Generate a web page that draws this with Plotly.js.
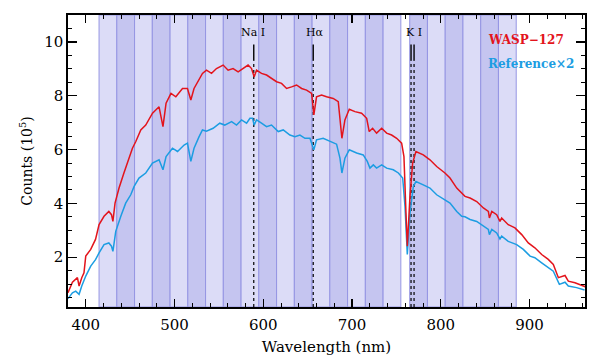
<!DOCTYPE html>
<html>
<head>
<meta charset="utf-8">
<script src="https://cdn.plot.ly/plotly-3.0.1.min.js"></script>
<style>html,body{margin:0;padding:0;background:#fff;}#chart{width:599px;height:362px;}</style>
</head>
<body>
<div id="chart"></div>
<script>
// Wavelength (nm) and counts (10^5)
const redWave = [380,385,390.6,392.5,395.5,398,400,405.6,411,415,420.6,426,429,430.6,433,437.5,443,449,452.6,456.4,462,467.6,475.2,482.6,487,490.5,496,501.5,509,514.6,518.4,522,527.7,531.5,536,541.7,547.3,554.8,560.4,566,571.7,577.3,582.9,586.8,589.7,592.4,598,603.7,609.3,615,620.6,626.3,631.9,637.5,643.2,648.8,654.5,657,660,665.7,671.3,678.8,684.5,686.4,688.6,692,696.9,703.3,710.8,716.5,719.4,723.2,727.7,733.4,739,744.6,750.3,755.9,758.5,760.8,762.3,765.3,768.3,772,780.3,787.8,795.4,804.7,810.4,818,823.6,827.3,833,840.5,848,853.6,854.8,857.5,863,866.7,868.6,876,883.6,891.2,898.6,903.6,906,913.7,921.1,926.8,932.5,940,943.7,951.2,960.6,963];
const redCounts = [0.68,1.07,1.24,0.93,1.24,1.42,2.04,2.29,2.66,3.21,3.52,3.70,3.58,3.33,4.01,4.57,5.13,5.74,6.05,6.30,6.73,6.91,7.35,7.59,6.85,7.72,8.09,7.96,8.27,8.27,7.84,8.27,8.64,8.83,8.95,8.83,9.01,9.14,8.95,9.01,8.89,9.01,9.14,9.01,8.70,8.95,8.83,8.77,8.64,8.52,8.46,8.27,8.33,8.40,8.27,8.21,8.09,7.29,7.96,8.03,7.96,7.90,7.78,7.10,6.42,7.10,7.50,7.41,7.35,7.16,6.67,6.79,6.61,6.79,6.61,6.54,6.42,6.24,5.74,3.64,2.41,4.26,5.50,5.93,5.80,5.62,5.37,5.13,4.94,4.57,4.39,4.26,4.20,4.07,3.83,3.70,3.46,3.70,3.58,3.33,3.46,3.21,3.09,2.84,2.53,2.43,2.35,2.10,1.92,1.73,1.24,1.32,1.11,1.05,0.93,0.90];

const refWave = [380,385,388.7,392.5,395.5,400,405.6,411,415,420.6,426,429,430.6,433.8,439.5,445,450.7,454.5,460,467.6,475.2,482.6,487,490.5,497.7,503.4,510.8,514.6,518.4,522,527.7,531.5,536,543.5,551,556.6,564.3,569.9,575.5,581.2,585,588,589.7,592.4,598,603.7,609.3,616.9,622.5,630,635.7,641.3,647,652.6,657,660,667.5,675,682.6,686.4,688.6,692,696.9,705.2,712.6,717.2,720.2,724,727.7,733.4,739,746.5,752.2,757.1,759.7,762.3,765.3,769.1,772,780.3,787.8,795.4,804.7,810.4,818,823.6,827.3,833,840.5,848,853.6,854.8,857.5,863,866.7,868.6,876,885.5,893,900.6,906,913.7,921.1,926.8,933.6,940,943.7,953,962];
const refCounts = [0.46,0.68,0.74,0.62,0.93,1.30,1.67,1.91,2.16,2.47,2.53,2.41,2.22,2.96,3.52,4.01,4.32,4.63,4.94,5.13,5.50,5.62,5.25,5.74,6.05,5.93,6.17,6.24,5.56,6.05,6.48,6.73,6.68,6.79,6.98,6.91,7.04,6.91,7.10,6.98,7.16,7.16,6.91,7.10,6.98,6.85,6.91,6.67,6.73,6.54,6.48,6.54,6.42,6.42,5.99,6.36,6.42,6.30,6.20,5.68,5.13,5.68,5.99,5.87,5.80,5.56,5.31,5.43,5.31,5.43,5.31,5.25,5.13,4.94,3.89,2.10,3.64,4.63,4.81,4.69,4.57,4.32,4.14,4.01,3.70,3.52,3.50,3.40,3.33,3.15,3.03,2.84,3.03,2.90,2.68,2.78,2.59,2.47,2.29,2.04,1.98,1.79,1.61,1.48,0.99,1.07,0.93,0.87,0.78];

// Spectroscopic bins (nm)
const binStart = [415,435,455,475,495,515,535,555,575,595,615,635,655,675,695,715,735,765,785,805,825,845,865];
const binEnd   = [435,455,475,495,515,535,555,575,595,615,635,655,675,695,715,735,755,785,805,825,845,865,885];
const binDark  = [0,1,0,1,0,1,0,1,0,1,0,1,0,1,0,1,0,1,0,1,0,1,0];

// Line markers
const lineLabels = ["Na I","Hα","K I"];
const lineLabelPos = [588.5,658,769.5];
const lineWaves = [589.3,656.3,766.5,769.9];

const legendNames = ["WASP−127","Reference×2"];

const RED = "#e3141c", BLUE = "#1c9de2";
const shapes = [];
binStart.forEach((s,i)=>{
  shapes.push({type:"rect",xref:"x",yref:"paper",x0:s,x1:binEnd[i],y0:0,y1:1,layer:"below",
    fillcolor: binDark[i] ? "#c5c5f0" : "#dcdcf7", line:{color:"#9595e3",width:1}});
});
lineWaves.forEach(w=>{
  shapes.push({type:"line",xref:"x",yref:"y",x0:w,x1:w,y0:0.15,y1:9.3,layer:"below",
    line:{color:"#000",width:1.2,dash:"dot"}});
  shapes.push({type:"line",xref:"x",yref:"y",x0:w,x1:w,y0:9.3,y1:9.9,layer:"above",
    line:{color:"#000",width:1.4}});
});

const annotations = lineLabels.map((t,i)=>({x:lineLabelPos[i],y:10.35,xref:"x",yref:"y",text:t,showarrow:false,
  xanchor:"center",yanchor:"middle",font:{family:"DejaVu Serif",size:11,color:"#000"}}));
annotations.push({x:851,y:10.06,xref:"x",yref:"y",text:"<b>"+legendNames[0]+"</b>",showarrow:false,xanchor:"left",yanchor:"middle",
  font:{family:"DejaVu Serif",size:12,color:RED}});
annotations.push({x:851,y:9.17,xref:"x",yref:"y",text:"<b>"+legendNames[1]+"</b>",showarrow:false,xanchor:"left",yanchor:"middle",
  font:{family:"DejaVu Serif",size:12,color:BLUE}});

const traces = [
  {x:refWave,y:refCounts,type:"scatter",mode:"lines",line:{color:BLUE,width:1.5},name:legendNames[1]},
  {x:redWave,y:redCounts,type:"scatter",mode:"lines",line:{color:RED,width:1.5},name:legendNames[0]}
];

const axisCommon = {showgrid:false,zeroline:false,showline:true,linecolor:"#000",linewidth:1.6,mirror:"allticks",
  ticks:"inside",tickcolor:"#000",tickwidth:1.3,tickfont:{family:"DejaVu Serif",size:15,color:"#000"}};

const layout = {
  width:599,height:362,margin:{l:68,r:14,t:15,b:55},
  paper_bgcolor:"#fff",plot_bgcolor:"#fff",showlegend:false,
  xaxis:Object.assign({},axisCommon,{range:[380,962.5],dtick:100,tick0:0,ticklen:8,ticklabelstandoff:3,
    minor:{dtick:20,ticklen:4,ticks:"inside",tickcolor:"#000",tickwidth:1},
    title:{text:"Wavelength (nm)",font:{family:"DejaVu Serif",size:15,color:"#000"},standoff:9}}),
  yaxis:Object.assign({},axisCommon,{range:[0.15,11],dtick:2,tick0:0,ticklen:9,
    minor:{dtick:0.5,ticklen:4,ticks:"inside",tickcolor:"#000",tickwidth:1},
    title:{text:"Counts (10<sup>5</sup>)",font:{family:"DejaVu Serif",size:14,color:"#000"},standoff:8}}),
  shapes:shapes,annotations:annotations
};
Plotly.newPlot("chart",traces,layout,{staticPlot:true,displayModeBar:false});
</script>
</body>
</html>
